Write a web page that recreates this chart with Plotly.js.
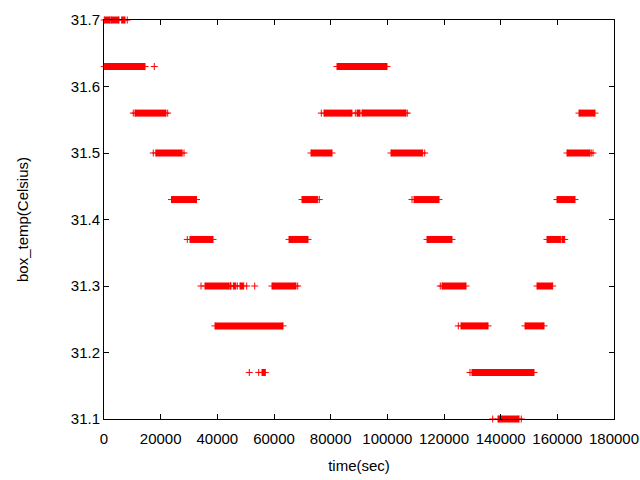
<!DOCTYPE html>
<html>
<head>
<meta charset="utf-8">
<script src="https://cdn.plot.ly/plotly-3.0.1.min.js"></script>
<style>html,body{margin:0;padding:0;background:#fff;}#chart{width:640px;height:480px;}</style>
</head>
<body>
<div id="chart"></div>
<script>
// Dense runs of readings: level (Celsius), first time, last time (sec)
const runLevel = [31.7, 31.7, 31.7,
  31.63, 31.63,
  31.56, 31.56, 31.56, 31.56, 31.56,
  31.5, 31.5, 31.5, 31.5,
  31.43, 31.43, 31.43, 31.43,
  31.37, 31.37, 31.37, 31.37, 31.37,
  31.3, 31.3, 31.3, 31.3, 31.3, 31.3, 31.3,
  31.24, 31.24, 31.24,
  31.17, 31.17,
  31.1];
const runStart = [100, 2470, 6250,
  100, 82235,
  10940, 77650, 89295, 91060, 167645,
  18290, 73060, 101295, 163410,
  23820, 69880, 109410, 159880,
  30350, 65295, 114000, 156350, 161650,
  35650, 45640, 48000, 59290, 119295, 152825, 44470,
  39180, 126000, 148590,
  55765, 129880,
  139060];
const runEnd = [2120, 5295, 7410,
  14470, 99880,
  21880, 87530, 90355, 106590, 173295,
  27570, 80470, 112480, 171530,
  32650, 75420, 118235, 166235,
  38470, 72000, 122820, 161190, 162600,
  44120, 46480, 49300, 67760, 127765, 158365, 44820,
  63180, 135530, 155295,
  56930, 151765,
  146470];
// Isolated readings
const singleTime = [8220, 17750, 10340, 22480, 76695, 88695, 107050,
  17400, 28235, 113190, 171990, 172590,
  75990, 108705, 29400,
  34235, 47050, 50365, 53190, 68365, 118695,
  125050, 51280, 54600, 129175,
  137190, 147285];
const singleLevel = [31.7, 31.63, 31.56, 31.56, 31.56, 31.56, 31.56,
  31.5, 31.5, 31.5, 31.5, 31.5,
  31.43, 31.43, 31.37,
  31.3, 31.3, 31.3, 31.3, 31.3, 31.3,
  31.24, 31.17, 31.17, 31.17,
  31.1, 31.1];

const xTicks = [0, 20000, 40000, 60000, 80000, 100000, 120000, 140000, 160000, 180000];
const yTicks = [31.1, 31.2, 31.3, 31.4, 31.5, 31.6, 31.7];

const lx = [], ly = [];
for (let i = 0; i < runLevel.length; i++) {
  lx.push(runStart[i], runEnd[i], null);
  ly.push(runLevel[i], runLevel[i], null);
}
const mx = runStart.concat(runEnd, singleTime);
const my = runLevel.concat(runLevel, singleLevel);

const red = '#ff0000';
const traces = [
  {x: lx, y: ly, type: 'scatter', mode: 'lines', cliponaxis: false,
   line: {color: red, width: 7}, hoverinfo: 'skip', showlegend: false},
  {x: mx, y: my, type: 'scatter', mode: 'markers', cliponaxis: false,
   marker: {symbol: 'cross-thin', size: 5, color: red, line: {color: red, width: 1}}, showlegend: false}
];

const font = {family: 'Liberation Sans, Arial, sans-serif', size: 15, color: '#000'};
const axisCommon = {
  showline: true, mirror: 'ticks', linecolor: '#000', linewidth: 1,
  ticks: 'inside', ticklen: 5, tickcolor: '#000', tickwidth: 1,
  showgrid: false, zeroline: false, tickfont: font
};
const layout = {
  width: 640, height: 480,
  margin: {l: 104, r: 26, t: 20, b: 61},
  paper_bgcolor: '#fff', plot_bgcolor: '#fff',
  font: font,
  showlegend: false,
  xaxis: Object.assign({}, axisCommon, {
    range: [0, 180000], tickvals: xTicks, ticktext: xTicks.map(String),
    ticklabelstandoff: 6,
    title: {text: 'time(sec)', font: font, standoff: 14}
  }),
  yaxis: Object.assign({}, axisCommon, {
    range: [31.1, 31.7], tickvals: yTicks, ticktext: yTicks.map(v => v.toFixed(1)),
    title: {text: 'box_temp(Celsius)', font: font, standoff: 38}
  })
};
Plotly.newPlot('chart', traces, layout, {displayModeBar: false, staticPlot: true}).then(function () {
  document.querySelectorAll('#chart .scatterlayer, #chart .scatterlayer *').forEach(function (el) {
    el.removeAttribute('clip-path');
  });
});
</script>
</body>
</html>
